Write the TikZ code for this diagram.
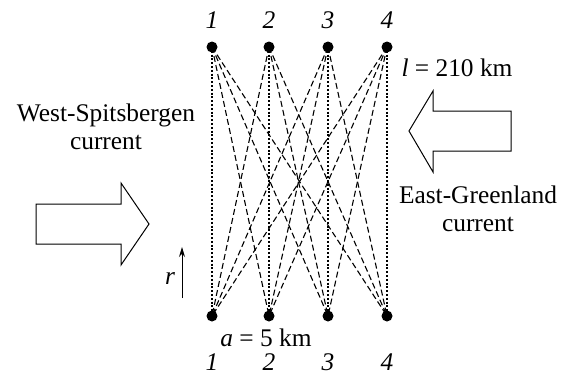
\documentclass[tikz,border=0pt]{standalone}
\usepackage{fontspec}
\setmainfont{Liberation Serif}
\usetikzlibrary{arrows.meta}
\begin{document}
\begin{tikzpicture}[x=0.5pt,y=-0.5pt,
  font=\fontsize{12.7}{15}\selectfont,
  station/.style={circle,fill=black,inner sep=0pt,minimum size=5.5pt},
  num/.style={font=\fontsize{12.7}{15}\selectfont\itshape},
  diag/.style={line width=0.55pt,dash pattern=on 3pt off 1.6pt},
  vert/.style={line width=0.55pt,dash pattern=on 1pt off 0.9pt},
  blockarrow/.style={draw=black,line width=0.5pt,line join=miter,fill=white},
  lbl/.style={align=center,inner sep=0pt}]
\useasboundingbox (0,0) rectangle (562,381);
% stations
\foreach \i/\x in {1/212,2/269,3/328,4/387}{
  \node[station] (t\i) at (\x,47) {};
  \node[station] (b\i) at (\x,316) {};
  \node[num] (tn\i) at (\x,20) {\i};
  \node[num] (bn\i) at (\x,362) {\i};
}
% connections
\foreach \i in {1,...,4}{
  \foreach \j in {1,...,4}{
    \ifnum\i=\j
      \draw[vert] (t\i.center) -- (b\j.center);
    \else
      \draw[diag] (t\i.center) -- (b\j.center);
    \fi
  }
}
\node[lbl] (lkm) at (457,68) {\textit{l} = 210 km};
\node[lbl] (akm) at (266,338) {\textit{a} = 5 km};
% left block arrow (pointing right)
\draw[blockarrow] (36,204) -- (121,204) -- (121,183) -- (149,224) -- (121,265) -- (121,244) -- (36,244) -- cycle;
% right block arrow (pointing left)
\draw[blockarrow] (511,111) -- (433,111) -- (433,91) -- (409,131) -- (433,172) -- (433,151) -- (511,151) -- cycle;
\node[lbl] (west) at (106,127) {West-Spitsbergen\\[-1pt]current};
\node[lbl] (east) at (478,209) {East-Greenland\\[-1pt]current};
% r arrow
\coordinate (rs) at (182,298);
\coordinate (re) at (182,247);
\draw[line width=0.5pt,-{Stealth[length=5pt,width=3pt]}] (rs) -- (re);
\node[num] (r) at (170,279) {r};
\end{tikzpicture}
\end{document}
